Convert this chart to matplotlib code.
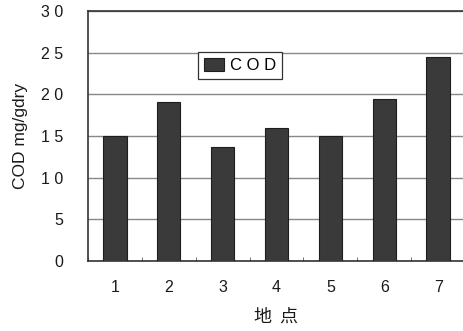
import matplotlib
matplotlib.use("Agg")
import matplotlib.pyplot as plt
import numpy as np

sites = ["1", "2", "3", "4", "5", "6", "7"]
cod = [15.0, 19.1, 13.7, 16.0, 15.0, 19.5, 24.5]
yticks = [0, 5, 10, 15, 20, 25, 30]
ytick_labels = ["0", "5", "1 0", "1 5", "2 0", "2 5", "3 0"]

plt.rcParams['font.family'] = ['Liberation Sans', 'Noto Sans CJK JP', 'DejaVu Sans']

fig = plt.figure(figsize=(4.63, 3.31), dpi=100)
ax = fig.add_axes([88/463, 70/331, 377/463, 250/331])

x = np.arange(len(sites))
ax.bar(x, cod, width=0.43, color='#3a3a3a', edgecolor='#1e1e1e', linewidth=0.8,
       label='C O D', zorder=3)

ax.set_xlim(-0.5, 6.5)
ax.set_ylim(0, 30)
ax.set_yticks(yticks)
ax.set_yticklabels(ytick_labels, fontsize=11.5, color='#1a1a1a')
ax.set_xticks(x)
ax.set_xticklabels(sites, fontsize=11.5, color='#1a1a1a')
ax.set_xticks(np.arange(-0.5, 7, 1), minor=True)
ax.tick_params(axis='x', which='major', length=0, pad=14)
ax.tick_params(axis='x', which='minor', length=3, direction='in', color='#555555')
ax.tick_params(axis='y', length=0, pad=18)

ax.yaxis.grid(True, color='#888888', linewidth=1.0, zorder=0)
for s in ax.spines.values():
    s.set_color('#333333')
    s.set_linewidth(1.2)

ax.set_ylabel('COD mg/gdry', fontsize=12.5, color='#1a1a1a', labelpad=9)
ax.set_xlabel('地  点', fontsize=13, color='#1a1a1a', labelpad=9,
              family=['Noto Sans CJK JP', 'DejaVu Sans'])

leg = ax.legend(loc='upper left', bbox_to_anchor=(110/377, 1 - 41/250), fontsize=12,
                frameon=True, fancybox=False, edgecolor='#333333', framealpha=1,
                handlelength=1.2, handleheight=0.8, handletextpad=0.4,
                borderpad=0.35, borderaxespad=0)
leg.get_frame().set_linewidth(0.9)

fig.savefig('out.png', dpi=100)
